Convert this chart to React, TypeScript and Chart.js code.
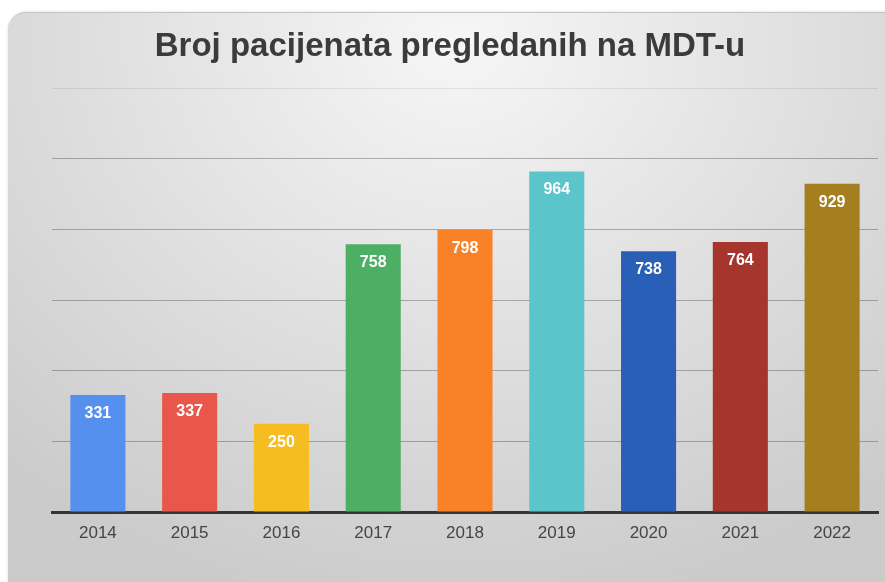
import React, { useEffect, useRef } from "react";
import { Chart, registerables } from "chart.js";

Chart.register(...registerables);

const TITLE = "Broj pacijenata pregledanih na MDT-u";
const YEARS = ["2014", "2015", "2016", "2017", "2018", "2019", "2020", "2021", "2022"];
const PATIENTS = [331, 337, 250, 758, 798, 964, 738, 764, 929];
const BAR_COLORS = [
  "#5690ee",
  "#e8574a",
  "#f5bd22",
  "#4daf63",
  "#f98127",
  "#5cc4cb",
  "#2a5fb7",
  "#a6352e",
  "#a57f1f",
];
const Y_MAX = 1200;
const Y_STEP = 200;

const valueLabels = {
  id: "valueLabels",
  afterDatasetsDraw(chart: any) {
    const ctx = chart.ctx;
    const meta = chart.getDatasetMeta(0);
    const data = chart.data.datasets[0].data as number[];
    ctx.save();
    ctx.fillStyle = "#ffffff";
    ctx.font = "bold 16px 'Liberation Sans', Arial, sans-serif";
    ctx.textAlign = "center";
    ctx.textBaseline = "middle";
    meta.data.forEach((bar: any, i: number) => {
      ctx.fillText(String(data[i]), bar.x, bar.y + 18.5);
    });
    ctx.restore();
  },
};

export default function App() {
  const ref = useRef<HTMLCanvasElement | null>(null);

  useEffect(() => {
    if (!ref.current) return;
    const chart = new Chart(ref.current, {
      type: "bar",
      data: {
        labels: YEARS,
        datasets: [
          {
            data: PATIENTS,
            backgroundColor: BAR_COLORS,
            borderWidth: 0,
            barPercentage: 0.6,
            categoryPercentage: 1,
          },
        ],
      },
      options: {
        animation: false,
        responsive: false,
        layout: { padding: { left: 22, right: 7, top: 0, bottom: 0 } },
        plugins: {
          legend: { display: false },
          tooltip: { enabled: false },
          title: {
            display: true,
            text: TITLE,
            color: "#3b3b3b",
            font: { family: "'Liberation Sans', Arial, sans-serif", size: 33, weight: "bold", lineHeight: 1.2 },
            padding: { top: 27.5, bottom: 20.9 },
          },
        },
        scales: {
          x: {
            grid: { display: false },
            border: { display: true, color: "#353535", width: 3 },
            ticks: {
              color: "#454545",
              padding: 3,
              font: { family: "'Liberation Sans', Arial, sans-serif", size: 17 },
            },
            afterFit: (scale: any) => {
              scale.height = 70;
            },
          },
          y: {
            min: 0,
            max: Y_MAX,
            z: 1,
            ticks: { display: false, stepSize: Y_STEP },
            border: { display: false },
            grid: {
              drawTicks: false,
              lineWidth: 1,
              color: (c: any) =>
                c.tick && c.tick.value === 0
                  ? "rgba(0,0,0,0)"
                  : c.tick && c.tick.value === Y_MAX
                  ? "rgba(0,0,0,0.08)"
                  : "rgba(0,0,0,0.27)",
            },
            afterFit: (scale: any) => {
              scale.width = 30;
            },
          },
        },
      },
      plugins: [valueLabels],
    });
    return () => chart.destroy();
  }, []);

  return (
    <div
      style={{
        position: "fixed",
        left: 0,
        top: 0,
        width: 885,
        height: 582,
        overflow: "hidden",
        background: "#ffffff",
      }}
    >
      <div
        style={{
          position: "absolute",
          left: 8,
          top: 12,
          width: 900,
          height: 600,
          borderRadius: 18,
          borderTop: "1px solid #c4c4c4",
          boxShadow: "0 0 3px rgba(0,0,0,0.15)",
          background:
            "radial-gradient(ellipse 75% 95% at 50% 5%, #f6f6f6 0%, #e5e5e5 40%, #cbcbcb 100%)",
        }}
      />
      <canvas
        ref={ref}
        width={885}
        height={582}
        style={{ position: "absolute", left: 0, top: 0, width: 885, height: 582 }}
      />
    </div>
  );
}
